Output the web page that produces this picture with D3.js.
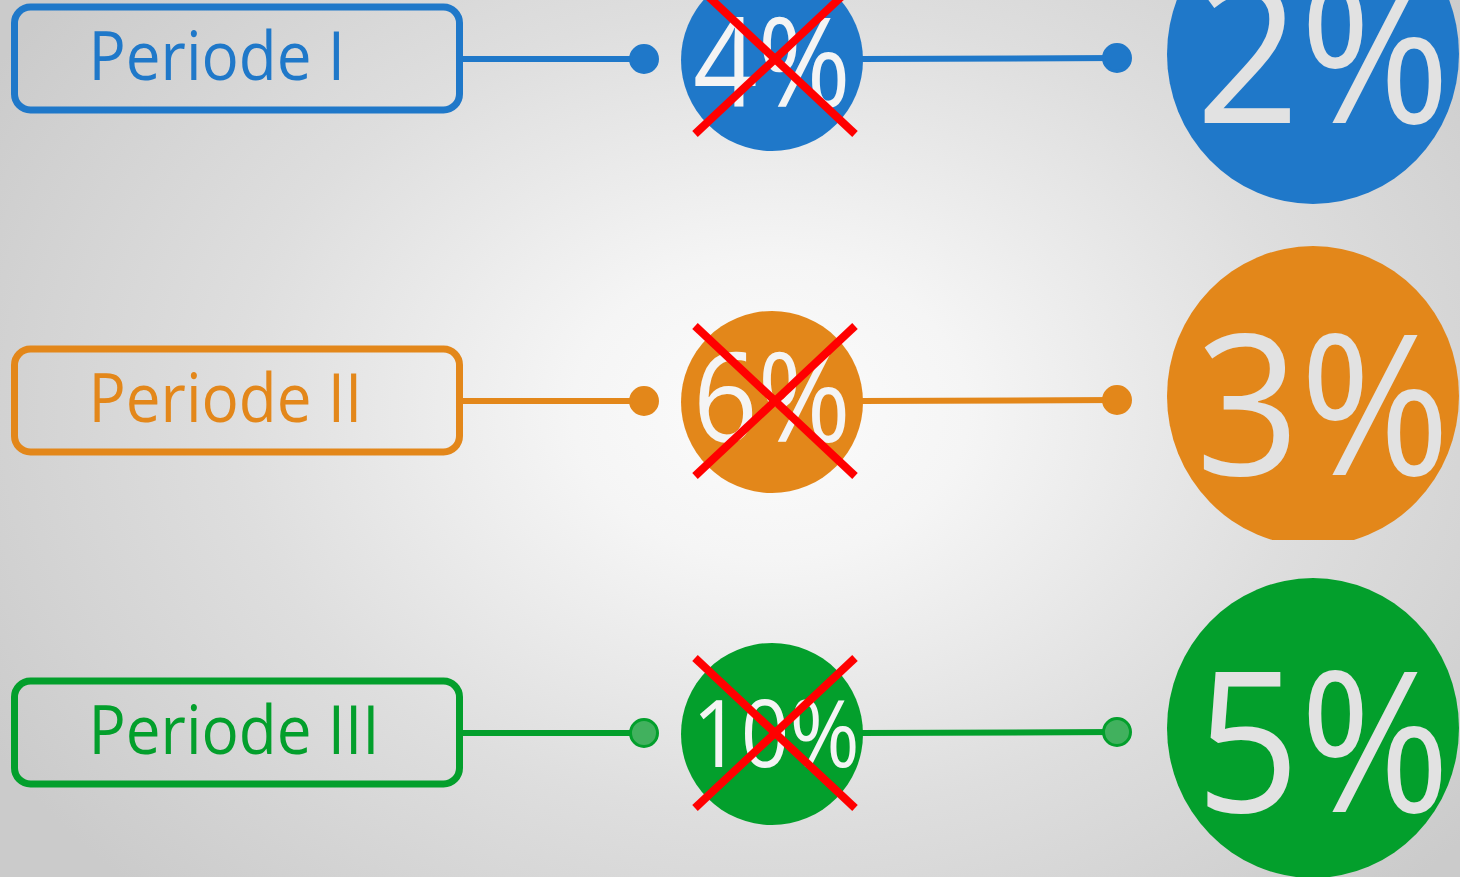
<!DOCTYPE html>
<html>
<head>
<meta charset="utf-8">
<script src="https://cdn.jsdelivr.net/npm/d3@7"></script>
<style>
  html, body { margin: 0; padding: 0; overflow: hidden; }
  svg { display: block; }
</style>
</head>
<body>
<svg id="chart"></svg>
<script>
// data
var periods = ["Periode I", "Periode II", "Periode III"];
var oldRates = [4, 6, 10];   // crossed out
var newRates = [2, 3, 5];
var colors = ["#1f78c9", "#e3871a", "#039f2c"];

var width = 1460, height = 877;

var svg = d3.select("#chart")
    .attr("width", width)
    .attr("height", height);

// background radial gradient
var defs = svg.append("defs");
var bg = defs.append("radialGradient")
    .attr("id", "bg")
    .attr("gradientUnits", "userSpaceOnUse")
    .attr("cx", 770).attr("cy", 410)
    .attr("r", 900)
    .attr("gradientTransform", "translate(770,410) scale(1,0.75) translate(-770,-410)");
bg.append("stop").attr("offset", "0%").style("stop-color", "#fcfcfc");
bg.append("stop").attr("offset", "22%").style("stop-color", "#f5f5f5");
bg.append("stop").attr("offset", "60%").style("stop-color", "#dedede");
bg.append("stop").attr("offset", "100%").style("stop-color", "#cbcbcb");

svg.append("rect")
    .attr("width", width)
    .attr("height", height)
    .style("fill", "url(#bg)");

// clip for the cut-off bottom of the middle big circle
defs.append("clipPath").attr("id", "clip-mid")
  .append("rect").attr("x", 1100).attr("y", 200).attr("width", 400).attr("height", 340);

// rows
var rowY = d3.scaleOrdinal().domain(periods).range([59, 401, 733]);
var color = d3.scaleOrdinal().domain(periods).range(colors);

// x positions of the pieces along each row
var xPos = d3.scaleOrdinal()
    .domain(["boxL", "boxR", "dot1", "old", "dot2", "new"])
    .range([14.5, 459.5, 644, 772, 1117, 1313]);

var rows = svg.selectAll("g.row")
    .data(periods.map(function(p, i) {
        return { name: p, oldRate: oldRates[i], newRate: newRates[i], i: i };
    }))
    .enter()
    .append("g")
    .attr("class", "row");

// period box
rows.append("rect")
    .attr("x", xPos("boxL"))
    .attr("y", function(d) { return rowY(d.name) - 52; })
    .attr("width", xPos("boxR") - xPos("boxL"))
    .attr("height", 103)
    .attr("rx", 16)
    .style("fill", "none")
    .style("stroke", function(d) { return color(d.name); })
    .style("stroke-width", 7);

rows.append("text")
    .attr("transform", function(d) {
        return "translate(" + (xPos("boxL") + 74) + "," + (rowY(d.name) + 21) + ") scale(1,1.08)";
    })
    .text(function(d) { return d.name; })
    .style("font-family", "'Open Sans', sans-serif")
    .style("font-size", "62px")
    .style("fill", function(d) { return color(d.name); });

// connector lines
rows.append("line")
    .attr("x1", xPos("boxR"))
    .attr("x2", xPos("dot1"))
    .attr("y1", function(d) { return rowY(d.name); })
    .attr("y2", function(d) { return rowY(d.name); })
    .style("stroke", function(d) { return color(d.name); })
    .style("stroke-width", 6);

rows.append("line")
    .attr("x1", xPos("old") + 88)
    .attr("x2", xPos("dot2"))
    .attr("y1", function(d) { return rowY(d.name); })
    .attr("y2", function(d) { return rowY(d.name) - 1; })
    .style("stroke", function(d) { return color(d.name); })
    .style("stroke-width", 6);

// dots
["dot1", "dot2"].forEach(function(k, j) {
    rows.append("circle")
        .attr("cx", xPos(k))
        .attr("cy", function(d) { return rowY(d.name) - j; })
        .attr("r", 13.5)
        .style("fill", function(d) { return d.i === 2 ? "#41b15e" : color(d.name); })
        .style("stroke", function(d) { return color(d.name); })
        .style("stroke-width", 3);
});

// old rate circle
rows.append("circle")
    .attr("cx", xPos("old"))
    .attr("cy", function(d) { return rowY(d.name) + 1; })
    .attr("r", 91)
    .style("fill", function(d) { return color(d.name); });

rows.append("text")
    .attr("text-anchor", "middle")
    .attr("transform", function(d) {
        return "translate(" + (xPos("old") + (d.i === 2 ? 4 : 0)) + "," + (rowY(d.name) + [48, 41, 34][d.i]) + ") scale(1,1.1)";
    })
    .text(function(d) { return d.oldRate + "%"; })
    .style("font-family", "'Open Sans', sans-serif")
    .style("font-size", function(d) { return (String(d.oldRate).length > 1 ? 85 : 113) + "px"; })
    .style("fill", "#f4f4f4");

// red cross
[-1, 1].forEach(function(s) {
    rows.append("line")
        .attr("x1", xPos("old") + 3 - 80 * s)
        .attr("x2", xPos("old") + 3 + 80 * s)
        .attr("y1", function(d) { return rowY(d.name) + 75; })
        .attr("y2", function(d) { return rowY(d.name) - 75; })
        .style("stroke", "#ff0000")
        .style("stroke-width", 8);
});

// new rate circle
rows.append("ellipse")
    .attr("cx", xPos("new"))
    .attr("cy", function(d) { return rowY(d.name) - 5; })
    .attr("rx", 146)
    .attr("ry", 150)
    .attr("clip-path", function(d) { return d.i === 1 ? "url(#clip-mid)" : null; })
    .style("fill", function(d) { return color(d.name); });

rows.append("text")
    .attr("text-anchor", "middle")
    .attr("transform", function(d) {
        return "translate(" + (xPos("new") + 10) + "," + (rowY(d.name) + [64, 74, 79][d.i]) + ") scale(1,1.08)";
    })
    .text(function(d) { return d.newRate + "%"; })
    .style("font-family", "'Open Sans', sans-serif")
    .style("font-size", "182px")
    .style("fill", "#e2e2e2");
</script>
</body>
</html>
